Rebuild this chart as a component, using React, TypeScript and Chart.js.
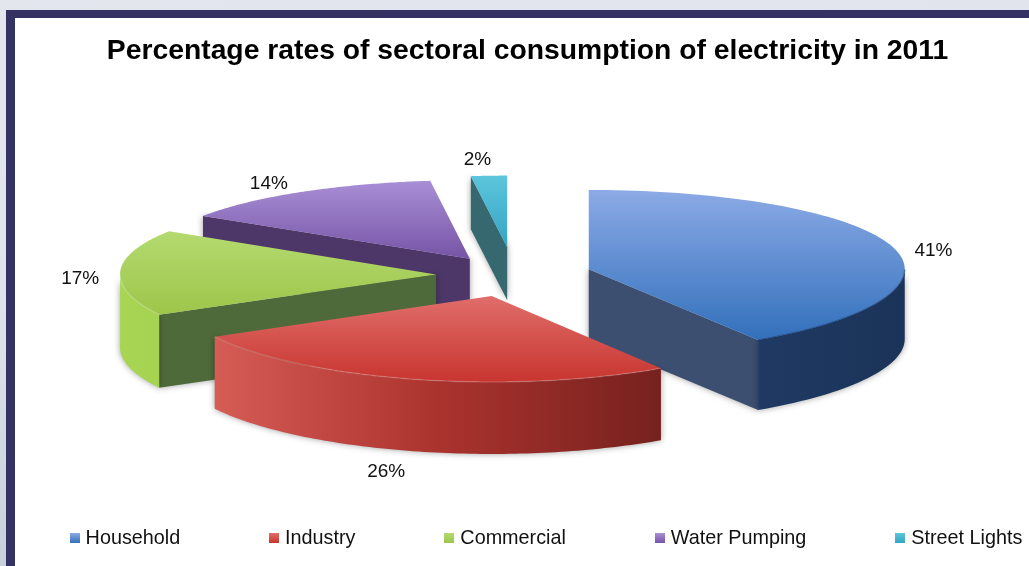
import React, { useEffect, useRef } from "react";
import { Chart, registerables } from "chart.js";

Chart.register(...registerables);

const categories = ["Household", "Industry", "Commercial", "Water Pumping", "Street Lights"];
const shares = [41, 26, 17, 14, 2];
const chartTitle = "Percentage rates of sectoral consumption of electricity in 2011";

// Exploded distance, extrusion, sideways drift and foreshortening of each wedge.
const explode = [82, 82, 74, 75, 108];
const thickness = [70, 72, 73, 62, 53];
const drift = [0, 2, 0, 0, 4];
const foreshorten = [1, 1, 1, 1, 0.92];

const baseColors = ["#4f81bd", "#c0504d", "#9bbb59", "#8064a2", "#4bacc6"];
const topLight = ["#8caae6", "#e06e6b", "#b4da70", "#a98fd6", "#5cc6dc"];
const topDark = ["#3270bb", "#c8352f", "#9dc64a", "#7654a6", "#35a3c4"];
const wallColors = ["#3d4f70", "#7a1f1c", "#4f6a3a", "#4d3768", "#36696f"];
const sideLeft = ["#22406e", "#d65c56", "#a9d555", "#5a4078", "#3d7f8c"];
const sideMid = ["#1f3a64", "#ab332e", "#9ccb48", "#4d3768", "#36696f"];
const sideRight = ["#1b3358", "#76211e", "#8fb83f", "#4d3768", "#36696f"];

// How far each value label sits from its wedge tip, and its vertical nudge.
const labelReach = [359, 416, 356, 375, 409];
const labelLift = [7, -7, 7, 4, 12];

const TILT = 0.26;
const PERSPECTIVE = 0.0001;
const CANVAS_W = 1229;
const CANVAS_H = 566;
const CANVAS_LEFT = -87;
const LEGEND_SHIFT = 38;
const TITLE_SHIFT = 17.5;

type Pt = { x: number; y: number };

const project = (cx: number, cy: number, wx: number, wy: number): Pt => {
  const f = 1 + wy * PERSPECTIVE;
  return { x: cx + wx, y: cy + TILT * wy * f };
};

const trace = (ctx: CanvasRenderingContext2D, pts: Pt[]) => {
  ctx.beginPath();
  pts.forEach((p, i) => (i ? ctx.lineTo(p.x, p.y) : ctx.moveTo(p.x, p.y)));
  ctx.closePath();
};

const drop = (pts: Pt[], h: number): Pt[] => pts.map((p) => ({ x: p.x, y: p.y + h }));

// Draws one pie arc as an extruded, tilted wedge using the arc element's own geometry.
const drawWedge = (ctx: CanvasRenderingContext2D, el: any, i: number) => {
  const { x: cx, y: cy, startAngle: a0, endAngle: a1 } = el;
  const r = el.outerRadius * foreshorten[i];
  const mid = (a0 + a1) / 2;
  const d = el.options.offset as number;
  const h = thickness[i];
  const ax = d * Math.cos(mid) + drift[i];
  const ay = d * Math.sin(mid);
  const at = (wx: number, wy: number) => project(cx, cy, wx, wy);
  const apex = at(ax, ay);
  const rim: Pt[] = [];
  const steps = 90;
  for (let s = 0; s <= steps; s++) {
    const a = a0 + ((a1 - a0) * s) / steps;
    rim.push(at(ax + r * Math.cos(a), ay + r * Math.sin(a)));
  }
  const xs = rim.map((p) => p.x).concat(apex.x);
  const ys = rim.map((p) => p.y).concat(apex.y);
  const minX = Math.min(...xs);
  const maxX = Math.max(...xs);
  const minY = Math.min(...ys);
  const maxY = Math.max(...ys);

  ctx.save();
  ctx.shadowColor = "rgba(0,0,0,0.38)";
  ctx.shadowBlur = 6;

  // Side walls: only the radial faces turned towards the viewer are drawn.
  const wall = (p: Pt) => {
    const face = [apex, p];
    trace(ctx, [...face, ...drop(face, h).reverse()]);
    ctx.fillStyle = wallColors[i];
    ctx.fill();
  };
  if (Math.cos(a0) < 0) wall(rim[0]);
  if (Math.cos(a1) > 0) wall(rim[rim.length - 1]);

  // Curved outer band, limited to the part of the rim facing the viewer.
  const front: Pt[] = [];
  for (let s = 0; s <= steps; s++) {
    const a = a0 + ((a1 - a0) * s) / steps;
    if (Math.sin(a) > -0.02) front.push(rim[s]);
  }
  if (front.length > 1) {
    const band = ctx.createLinearGradient(minX, 0, maxX, 0);
    band.addColorStop(0, sideLeft[i]);
    band.addColorStop(0.5, sideMid[i]);
    band.addColorStop(1, sideRight[i]);
    trace(ctx, [...front, ...drop(front, h).reverse()]);
    ctx.fillStyle = band;
    ctx.fill();
  }
  ctx.restore();

  // Top face.
  const grad = ctx.createLinearGradient(0, minY, 0, maxY);
  grad.addColorStop(0, topLight[i]);
  grad.addColorStop(1, topDark[i]);
  trace(ctx, [apex, ...rim]);
  ctx.fillStyle = grad;
  ctx.fill();

  // Soft bevel along the front rim.
  if (front.length > 1) {
    ctx.save();
    ctx.beginPath();
    front.forEach((p, k) => (k ? ctx.lineTo(p.x, p.y) : ctx.moveTo(p.x, p.y)));
    ctx.strokeStyle = i === 0 ? "rgba(20,50,100,0.5)" : "rgba(255,255,255,0.16)";
    ctx.lineWidth = 1.5;
    ctx.stroke();
    ctx.restore();
  }
};

const wedgePlugin = {
  id: "tiltedWedges",
  beforeDatasetDraw(chart: any) {
    const ctx = chart.ctx as CanvasRenderingContext2D;
    const arcs = chart.getDatasetMeta(0).data;
    // Painted back to front so nearer wedges overlap farther ones.
    [4, 3, 2, 0, 1].forEach((i) => drawWedge(ctx, arcs[i], i));
    return false;
  },
  afterDatasetsDraw(chart: any) {
    const ctx = chart.ctx as CanvasRenderingContext2D;
    const arcs = chart.getDatasetMeta(0).data;
    ctx.save();
    ctx.font = '19px "Liberation Sans", Arial, sans-serif';
    ctx.fillStyle = "#111";
    ctx.textAlign = "center";
    ctx.textBaseline = "middle";
    arcs.forEach((el: any, i: number) => {
      const mid = (el.startAngle + el.endAngle) / 2;
      const d = el.options.offset as number;
      const reach = d + labelReach[i];
      const p = project(el.x, el.y, reach * Math.cos(mid), reach * Math.sin(mid));
      const below = Math.sin(mid) > 0.5 ? thickness[i] : 0;
      ctx.fillText(`${shares[i]}%`, p.x, p.y + below + labelLift[i]);
    });
    ctx.restore();
  },
  beforeDraw(chart: any) {
    // Title and legend each sit slightly right of the pie's centre line.
    const lg = chart.legend;
    if (lg && !lg.$shifted) {
      lg.left += LEGEND_SHIFT;
      lg.right += LEGEND_SHIFT;
      lg.$shifted = true;
    }
    const tb = chart.titleBlock;
    if (tb && !tb.$shifted) {
      tb.left += TITLE_SHIFT;
      tb.right += TITLE_SHIFT;
      tb.$shifted = true;
    }
  },
};

// Small glossy square used as a legend key.
const legendKey = (i: number) => {
  const c = document.createElement("canvas");
  c.width = 10;
  c.height = 10;
  const g = c.getContext("2d")!;
  const fill = g.createLinearGradient(0, 0, 0, 10);
  fill.addColorStop(0, topLight[i]);
  fill.addColorStop(1, topDark[i]);
  g.fillStyle = fill;
  g.fillRect(0, 0, 10, 10);
  return c;
};

export default function App() {
  const ref = useRef<HTMLCanvasElement>(null);

  useEffect(() => {
    const canvas = ref.current!;
    const chart = new Chart(canvas, {
      type: "pie",
      data: {
        labels: categories,
        datasets: [
          {
            data: shares,
            backgroundColor: baseColors,
            borderWidth: 0,
            offset: explode,
            radius: 316,
          } as any,
        ],
      },
      plugins: [wedgePlugin],
      options: {
        responsive: false,
        animation: false,
        devicePixelRatio: 1,
        layout: { padding: { top: 0, right: 35, bottom: 8, left: 0 } },
        plugins: {
          tooltip: { enabled: false },
          title: {
            display: true,
            text: chartTitle,
            color: "#000",
            font: { family: '"Liberation Sans", Arial, sans-serif', size: 28.3, weight: "bold" },
            padding: { top: 34, bottom: 47 },
          },
          legend: {
            position: "bottom",
            labels: {
              usePointStyle: true,
              pointStyleWidth: 2,
              padding: 93,
              color: "#111",
              font: { family: '"Liberation Sans", Arial, sans-serif', size: 19.8 },
              generateLabels(c: any) {
                const items = (Chart as any).overrides.pie.plugins.legend.labels.generateLabels(c);
                return items.map((it: any, i: number) => ({ ...it, pointStyle: legendKey(i) }));
              },
            },
          },
        },
      },
    } as any);
    return () => chart.destroy();
  }, []);

  return (
    <div
      style={{
        position: "fixed",
        inset: 0,
        overflow: "hidden",
        background: "linear-gradient(170deg, #e4e6ee 0%, #dfe3eb 40%, #b7c3d3 100%)",
      }}
    >
      <div
        style={{
          position: "absolute",
          left: 6,
          top: 10,
          right: 0,
          bottom: 0,
          boxSizing: "border-box",
          background: "#fff",
          borderLeft: "9px solid #343163",
          borderTop: "8px solid #343163",
        }}
      />
      <canvas
        ref={ref}
        width={CANVAS_W}
        height={CANVAS_H}
        style={{ position: "absolute", left: CANVAS_LEFT, top: 0, width: CANVAS_W, height: CANVAS_H }}
      />
    </div>
  );
}
